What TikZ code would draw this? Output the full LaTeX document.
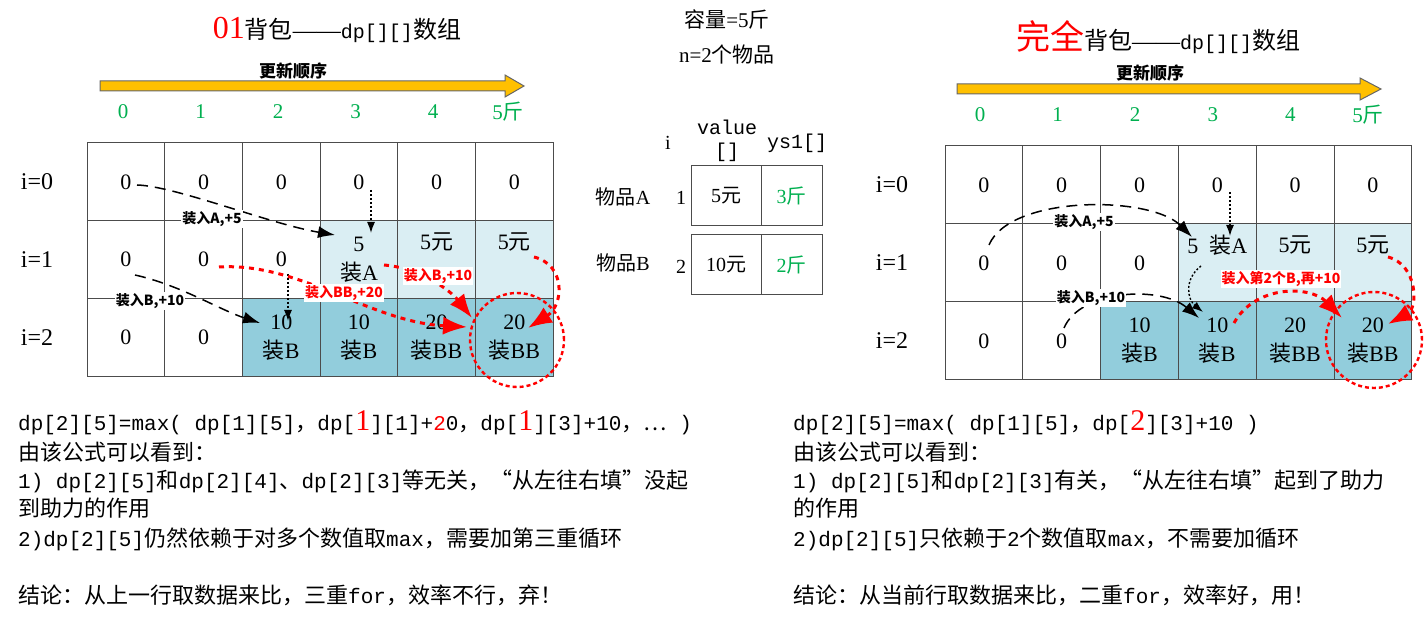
\documentclass[tikz,border=0pt]{standalone}
\usepackage{fontspec}
\setmainfont{Liberation Serif}
\newfontfamily\zh{Noto Sans CJK SC}
\newfontfamily\mono{Liberation Mono}
\usetikzlibrary{arrows.meta}
\definecolor{numgreen}{HTML}{00B050}
\definecolor{pale}{HTML}{DAEEF3}
\definecolor{deep}{HTML}{92CDDC}
\definecolor{gold}{HTML}{FFC000}
\newcommand\fsz[1]{\fontsize{#1}{#1}\selectfont}
\newcommand\latn[1]{{\mono\fontsize{21}{22}\selectfont #1}}
\newcommand\bigred[1]{{\rmfamily\color{red}\fontsize{30}{30}\selectfont #1}}

\tikzset{
  cell/.style={draw=black!70, line width=1pt, minimum width=77.7pt, minimum height=77.7pt,
    inner sep=0pt, align=center, font=\fontsize{22}{29}\selectfont},
  rcell/.style={cell, minimum width=77.8pt, minimum height=78pt},
  colnum/.style={text=numgreen, font=\fsz{21}},
  rowlab/.style={font=\fsz{24}},
  tbl/.style={draw=black!70, line width=1pt, minimum height=60pt, inner sep=0pt, font=\fsz{20}},
  tag/.style={fill=white, inner sep=1pt, font=\zh\bfseries\fsz{14}},
  blkdash/.style={line width=1.5pt, dash pattern=on 11pt off 7pt, -{Latex[length=17pt,width=12pt]}},
  blkdot/.style={line width=1.4pt, dash pattern=on 2pt off 2pt, -{Latex[length=11pt,width=8pt]}},
  reddot/.style={red, line width=3pt, dash pattern=on 5pt off 5pt, -{Latex[length=24pt,width=18pt]}},
  redring/.style={draw=red, line width=2.4pt, dash pattern=on 4pt off 3pt, circle, inner sep=0pt},
  note/.style={anchor=base west, inner sep=0pt, font=\zh\fsz{22}},
  gold arrow/.style={fill=gold, draw=black!60, line width=1pt}
}

\begin{document}
\begin{tikzpicture}[x=1pt, y=-1pt]
\fill[white] (0,0) rectangle (1425,620);
\useasboundingbox (0,0) rectangle (1425,620);

% ---------- left: 01 knapsack ----------
\node (ltitle) at (337,30) {{\color{red}\fsz{32}01}\fsz{24}{\zh 背包}——{\mono\fsz{20}dp[][]}{\zh 数组}};
\draw[gold arrow] (100,81) -- (505,81) -- (505,75) -- (524,86) -- (505,97) -- (505,91) -- (100,91) -- cycle;
\node[font=\zh\bfseries\fsz{17}] (lorder) at (293,71) {更新顺序};
\foreach \c in {0,...,4}
  \node[colnum] (lcol\c) at ({123+77.5*\c},112) {\c};
\node[colnum] (lcol5) at (508,112) {5{\zh 斤}};
\foreach \r in {0,1,2}
  \node[rowlab] (lrow\r) at (37,{181.85+77.7*\r}) {i=\r};

\foreach \r/\c/\fillc/\txt in {
  0/0/white/0, 0/1/white/0, 0/2/white/0, 0/3/white/0, 0/4/white/0, 0/5/white/0,
  1/0/white/0, 1/1/white/0, 1/2/white/0,
  1/3/pale/{5\\{\zh 装}A}, 1/4/pale/{5{\zh 元}\\\strut}, 1/5/pale/{5{\zh 元}\\\strut},
  2/0/white/0, 2/1/white/0,
  2/2/deep/{10\\{\zh 装}B}, 2/3/deep/{10\\{\zh 装}B},
  2/4/deep/{20\\{\zh 装}BB}, 2/5/deep/{20\\{\zh 装}BB}}
  \node[cell, fill=\fillc] (L\r\c) at ({87+77.7*(\c+0.5)},{143+77.7*(\r+0.5)}) {\txt};

% left arrows
\coordinate (lAfrom) at (137,185);
\coordinate (lAto) at (335,235);
\coordinate (lBfrom) at (135,275);
\coordinate (lBto) at (260,323);
\coordinate (lup1) at (371,190);
\coordinate (ldn1) at (371,233);
\coordinate (lup2) at (288,274);
\coordinate (ldn2) at (288,321);
\coordinate (lBBfrom) at (219,267);
\coordinate (lBBto) at (467,327);
\coordinate (lB2from) at (384,265);
\coordinate (lB2to) at (472,318);
\coordinate (lYfrom) at (534,257);
\coordinate (lYto) at (528,328);
\draw[blkdash] (lAfrom) .. controls (175,186) and (270,224) .. (lAto);
\draw[blkdash] (lBfrom) .. controls (180,285) and (220,310) .. (lBto);
\draw[blkdot] (lup1) -- (ldn1);
\draw[blkdot] (lup2) -- (ldn2);
\draw[reddot] (lBBfrom) .. controls (300,262) and (370,322) .. (lBBto);
\draw[reddot] (lB2from) .. controls (420,268) and (450,290) .. (lB2to);
\draw[reddot] (lYfrom) .. controls (566,265) and (564,305) .. (lYto);
\node[redring, minimum size=94pt] (lring) at (517,340) {};
\node[tag] (lAtag) at (212,219) {装入A,+5};
\node[tag] (lBtag) at (150,301) {装入B,+10};
\node[tag, text=red] (lBBtag) at (344,293) {装入BB,+20};
\node[tag, text=red] (lB2tag) at (438,276) {装入B,+10};

% left notes
\node[note] (lnote1) at (18,430) {\latn{dp[2][5]=max( dp[1][5]}，\latn{dp[}\bigred{1}\latn{][1]+}{\color{red}\latn{2}}\latn{0}，\latn{dp[}\bigred{1}\latn{][3]+10}，⋯\latn{ )}};
\node[note] (lnote2) at (18,460) {由该公式可以看到：};
\node[note] (lnote3) at (18,488) {\latn{1) dp[2][5]}和\latn{dp[2][4]}、\latn{dp[2][3]}等无关，“从左往右填”没起};
\node[note] (lnote4) at (18,516) {到助力的作用};
\node[note] (lnote5) at (18,546) {\latn{2)dp[2][5]}仍然依赖于对多个数值取\latn{max}，需要加第三重循环};
\node[note] (lnote6) at (18,603) {结论：从上一行取数据来比，三重\latn{for}，效率不行，弃！};

% ---------- middle: items ----------
\node[font=\fsz{21}] (cap) at (727,20) {{\zh 容量}=5{\zh 斤}};
\node[font=\fsz{21}] (cnt) at (727,55) {n=2{\zh 个物品}};
\node[font=\fsz{20}] (ihead) at (668,143) {i};
\node[font=\mono\fsz{20}] (vhead) at (727,127) {value};
\node[font=\mono\fsz{20}] (vbr) at (727,152) {[]};
\node[font=\mono\fsz{20}] (yhead) at (797,143) {ys1[]};
\node[tbl, minimum width=70pt] (valA) at (726,196) {5{\zh 元}};
\node[tbl, minimum width=61pt, text=numgreen] (wA) at (791.5,196) {3{\zh 斤}};
\node[tbl, minimum width=70pt] (valB) at (726,265) {10{\zh 元}};
\node[tbl, minimum width=61pt, text=numgreen] (wB) at (791.5,265) {2{\zh 斤}};
\node[font=\fsz{20}] (itemA) at (623,197) {{\zh 物品}A};
\node[font=\fsz{20}] (idxA) at (681,198) {1};
\node[font=\fsz{20}] (itemB) at (623,263) {{\zh 物品}B};
\node[font=\fsz{20}] (idxB) at (681,267) {2};

% ---------- right: complete knapsack ----------
\node (rtitle) at (1158,37) {{\color{red}\zh\fsz{34}完全}\fsz{24}{\zh 背包}——{\mono\fsz{20}dp[][]}{\zh 数组}};
\draw[gold arrow] (957,84) -- (1360,84) -- (1360,78) -- (1381,89) -- (1360,100) -- (1360,94) -- (957,94) -- cycle;
\node[font=\zh\bfseries\fsz{17}] (rorder) at (1150,73) {更新顺序};
\foreach \c in {0,...,4}
  \node[colnum] (rcol\c) at ({980+77.6*\c},115) {\c};
\node[colnum] (rcol5) at (1368,115) {5{\zh 斤}};
\foreach \r in {0,1,2}
  \node[rowlab] (rrow\r) at (892,{185+78*\r}) {i=\r};

\foreach \r/\c/\fillc/\txt in {
  0/0/white/0, 0/1/white/0, 0/2/white/0, 0/3/white/0, 0/4/white/0, 0/5/white/0,
  1/0/white/0, 1/1/white/0, 1/2/white/0,
  1/3/pale/{5~~{\zh 装}A\\\strut}, 1/4/pale/{5{\zh 元}\\\strut}, 1/5/pale/{5{\zh 元}\\\strut},
  2/0/white/0, 2/1/white/0,
  2/2/deep/{10\\{\zh 装}B}, 2/3/deep/{10\\{\zh 装}B},
  2/4/deep/{20\\{\zh 装}BB}, 2/5/deep/{20\\{\zh 装}BB}}
  \node[rcell, fill=\fillc] (R\r\c) at ({945+77.8*(\c+0.5)},{146+78*(\r+0.5)}) {\txt};

% right arrows
\coordinate (rAfrom) at (989,245);
\coordinate (rAto) at (1192,237);
\coordinate (rBfrom) at (1064,328);
\coordinate (rBto) at (1199,318);
\coordinate (rup1) at (1230,192);
\coordinate (rdn1) at (1230,236);
\coordinate (rup2) at (1201,266);
\coordinate (rdn2) at (1203,312);
\coordinate (rB2from) at (1234,323);
\coordinate (rB2to) at (1342,318);
\coordinate (rYfrom) at (1388,257);
\coordinate (rYto) at (1388,324);
\draw[blkdash] (rAfrom) .. controls (1010,195) and (1150,195) .. (rAto);
\draw[blkdash] (rBfrom) .. controls (1080,290) and (1160,285) .. (rBto);
\draw[blkdot] (rup1) -- (rdn1);
\draw[blkdot] (rup2) .. controls (1183,280) and (1188,300) .. (rdn2);
\draw[reddot] (rB2from) .. controls (1255,285) and (1310,285) .. (rB2to);
\draw[reddot] (rYfrom) .. controls (1418,265) and (1418,308) .. (rYto);
\node[redring, minimum size=96pt] (rring) at (1374,340) {};
\node[tag] (rAtag) at (1084,222) {装入A,+5};
\node[tag] (rBtag) at (1091,298) {装入B,+10};
\node[tag, text=red] (rB2tag) at (1281,279) {装入第2个B,再+10};

% right notes
\node[note] (rnote1) at (793,430) {\latn{dp[2][5]=max( dp[1][5]}，\latn{dp[}\bigred{2}\latn{][3]+10 )}};
\node[note] (rnote2) at (793,460) {由该公式可以看到：};
\node[note] (rnote3) at (793,488) {\latn{1) dp[2][5]}和\latn{dp[2][3]}有关，“从左往右填”起到了助力};
\node[note] (rnote4) at (793,516) {的作用};
\node[note] (rnote5) at (793,546) {\latn{2)dp[2][5]}只依赖于\latn{2}个数值取\latn{max}，不需要加循环};
\node[note] (rnote6) at (793,603) {结论：从当前行取数据来比，二重\latn{for}，效率好，用！};
\end{tikzpicture}
\end{document}
